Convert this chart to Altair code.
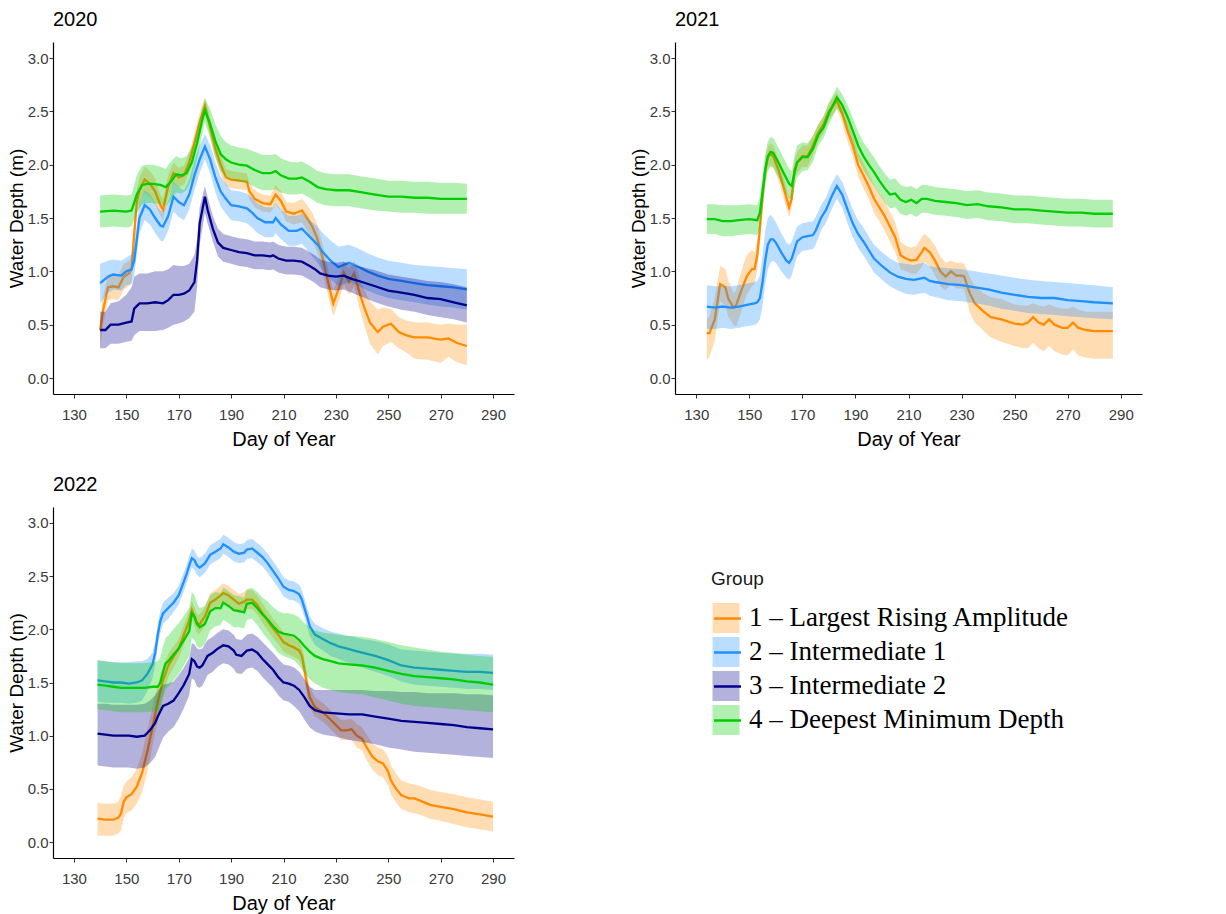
import altair as alt
import pandas as pd

GROUPS = ["1 – Largest Rising Amplitude", "2 – Intermediate 1",
          "3 – Intermediate 2", "4 – Deepest Minimum Depth"]
LINE_KEYS = ["G1", "G2", "G3", "G4"]
LINE_COLORS = ["#FF8C00", "#1E90FF", "#00008B", "#00CD00"]
X_TICKS = [130, 150, 170, 190, 210, 230, 250, 270, 290]
Y_TICKS = [0.0, 0.5, 1.0, 1.5, 2.0, 2.5, 3.0]

# ---------------- 2020 ----------------
D20_G1 = [140,141,143,145,147,149,151,152,153,154,155,157,159,161,163,164,166,168,170,172,
          174,176,178,180,182,184,186,188,190,193,196,197,199,202,205,207,209,211,214,217,
          219,221,223,225,227,229,231,233,235,237,239,241,243,246,248,251,254,257,260,265,
          270,273,276,280]
M20_G1 = [0.45,0.62,0.85,0.86,0.85,0.95,0.98,1.02,1.35,1.65,1.76,1.86,1.82,1.75,1.62,1.58,1.80,1.92,1.88,1.90,
          2.02,2.20,2.40,2.55,2.35,2.15,2.00,1.88,1.86,1.85,1.84,1.75,1.68,1.64,1.63,1.72,1.66,1.56,1.54,1.57,
          1.50,1.42,1.30,1.12,0.90,0.70,0.83,0.99,0.90,0.98,0.80,0.65,0.52,0.43,0.48,0.51,0.43,0.40,0.38,0.38,
          0.36,0.37,0.33,0.30]
HI20_G1 = [0.55,0.75,0.97,0.98,0.97,1.07,1.10,1.14,1.47,1.77,1.88,1.98,1.94,1.87,1.72,1.68,1.90,2.02,1.97,1.99,
           2.11,2.29,2.49,2.63,2.44,2.24,2.09,1.96,1.94,1.93,1.92,1.83,1.76,1.72,1.71,1.81,1.75,1.65,1.64,1.68,
           1.62,1.55,1.43,1.25,1.03,0.82,0.95,1.10,1.02,1.10,0.95,0.82,0.72,0.64,0.66,0.65,0.57,0.54,0.52,0.52,
           0.50,0.51,0.50,0.50]
LO20_G1 = [0.28,0.48,0.73,0.74,0.73,0.83,0.86,0.90,1.23,1.53,1.64,1.74,1.70,1.63,1.52,1.48,1.70,1.82,1.79,1.81,
           1.93,2.11,2.31,2.47,2.26,2.06,1.91,1.80,1.78,1.77,1.76,1.67,1.60,1.56,1.55,1.63,1.57,1.47,1.44,1.46,
           1.38,1.29,1.17,0.99,0.77,0.58,0.71,0.88,0.78,0.86,0.65,0.48,0.32,0.22,0.30,0.34,0.28,0.24,0.18,0.17,
           0.14,0.20,0.15,0.12]

D20_G2 = [140,143,145,148,150,152,153,155,157,159,161,163,164,166,168,170,172,174,176,178,
          180,182,184,186,188,190,193,196,198,200,203,206,207,209,212,215,217,219,221,223,
          225,228,231,233,235,238,242,246,250,255,260,265,270,275,280]
M20_G2 = [0.89,0.95,0.97,0.96,1.00,1.02,1.10,1.50,1.62,1.58,1.50,1.43,1.42,1.52,1.70,1.65,1.62,1.72,1.90,2.05,
          2.17,2.05,1.88,1.75,1.68,1.62,1.61,1.59,1.55,1.50,1.46,1.46,1.50,1.44,1.38,1.38,1.40,1.35,1.30,1.25,
          1.18,1.10,1.04,1.06,1.08,1.05,1.00,0.96,0.93,0.91,0.89,0.87,0.86,0.85,0.83]
HI20_G2 = [1.07,1.10,1.11,1.10,1.13,1.16,1.24,1.64,1.76,1.72,1.64,1.57,1.56,1.66,1.84,1.79,1.76,1.86,2.04,2.18,
           2.29,2.18,2.02,1.89,1.82,1.76,1.75,1.73,1.69,1.64,1.60,1.60,1.64,1.58,1.52,1.52,1.54,1.50,1.46,1.42,
           1.36,1.29,1.23,1.24,1.25,1.22,1.17,1.13,1.10,1.08,1.06,1.05,1.04,1.03,1.02]
LO20_G2 = [0.70,0.80,0.83,0.82,0.87,0.88,0.96,1.36,1.48,1.44,1.36,1.29,1.28,1.38,1.56,1.51,1.48,1.58,1.76,1.92,
           2.05,1.92,1.74,1.61,1.54,1.48,1.47,1.45,1.41,1.36,1.32,1.32,1.36,1.30,1.24,1.24,1.26,1.20,1.14,1.08,
           1.00,0.92,0.86,0.88,0.90,0.87,0.82,0.78,0.75,0.73,0.71,0.69,0.67,0.66,0.64]

D20_G3 = [140,142,144,147,150,152,153,155,158,161,164,166,168,170,172,174,176,177,178,180,
          181,183,185,187,190,193,196,199,202,205,206,208,211,214,217,220,222,224,227,230,
          233,236,240,245,250,255,260,265,270,275,280]
M20_G3 = [0.45,0.45,0.50,0.50,0.52,0.53,0.65,0.70,0.70,0.71,0.70,0.73,0.78,0.78,0.79,0.82,0.90,1.10,1.45,1.70,
          1.58,1.40,1.27,1.22,1.20,1.18,1.17,1.15,1.15,1.14,1.15,1.12,1.10,1.10,1.09,1.05,1.02,0.98,0.96,0.95,
          0.96,0.93,0.90,0.86,0.82,0.80,0.78,0.75,0.74,0.71,0.68]
HI20_G3 = [0.62,0.62,0.70,0.72,0.78,0.85,0.95,0.98,0.98,1.00,1.00,1.02,1.06,1.05,1.05,1.07,1.15,1.30,1.60,1.80,
           1.70,1.52,1.40,1.35,1.33,1.31,1.30,1.28,1.28,1.27,1.28,1.25,1.23,1.23,1.22,1.18,1.15,1.11,1.09,1.08,
           1.09,1.06,1.04,1.01,0.97,0.95,0.93,0.91,0.90,0.88,0.85]
LO20_G3 = [0.28,0.28,0.32,0.32,0.34,0.35,0.40,0.44,0.44,0.44,0.45,0.47,0.50,0.51,0.53,0.56,0.62,0.85,1.25,1.55,
           1.45,1.28,1.14,1.09,1.07,1.05,1.04,1.02,1.02,1.01,1.02,0.99,0.97,0.97,0.96,0.92,0.89,0.85,0.83,0.82,
           0.83,0.80,0.76,0.71,0.67,0.64,0.62,0.59,0.57,0.55,0.52]

D20_G4 = [140,145,150,152,154,156,158,160,163,165,167,169,171,173,175,177,179,180,182,184,
          186,188,190,193,196,199,202,205,207,209,212,215,217,220,223,226,230,235,240,245,
          250,255,260,265,270,275,280]
M20_G4 = [1.56,1.57,1.56,1.57,1.72,1.81,1.82,1.82,1.81,1.79,1.84,1.91,1.90,1.92,2.02,2.20,2.42,2.51,2.38,2.22,
          2.10,2.05,2.02,2.00,1.99,1.95,1.92,1.92,1.94,1.90,1.87,1.87,1.88,1.84,1.79,1.77,1.76,1.76,1.74,1.72,
          1.70,1.70,1.69,1.69,1.68,1.68,1.68]
HI20_G4 = [1.71,1.72,1.71,1.72,1.90,1.99,2.00,2.00,1.98,1.96,2.03,2.08,2.06,2.08,2.17,2.33,2.53,2.62,2.52,2.38,
           2.27,2.21,2.18,2.16,2.15,2.12,2.09,2.09,2.10,2.06,2.03,2.02,2.03,1.99,1.94,1.92,1.91,1.91,1.89,1.87,
           1.85,1.85,1.84,1.84,1.83,1.83,1.82]
LO20_G4 = [1.41,1.42,1.41,1.42,1.55,1.63,1.64,1.64,1.63,1.61,1.66,1.74,1.73,1.76,1.86,2.05,2.29,2.40,2.25,2.07,
           1.94,1.89,1.86,1.84,1.83,1.79,1.76,1.76,1.77,1.74,1.72,1.72,1.73,1.69,1.64,1.62,1.61,1.61,1.59,1.57,
           1.56,1.55,1.55,1.54,1.54,1.54,1.54]

# ---------------- 2021 ----------------
D21_G1 = [134,135,137,139,141,142,144,145,147,149,151,152,153,154,155,156,157,158,159,161,
          163,165,166,167,168,170,172,174,176,178,180,183,185,187,189,191,193,195,197,199,
          201,203,205,207,209,211,213,215,216,218,220,222,224,226,228,230,231,233,235,238,
          241,245,250,253,255,257,259,261,263,265,268,270,272,274,277,280,287]
M21_G1 = [0.42,0.42,0.55,0.88,0.85,0.75,0.66,0.68,0.82,0.95,1.02,1.02,1.15,1.40,1.70,1.95,2.07,2.10,2.08,1.95,
          1.78,1.60,1.68,1.95,2.02,2.08,2.08,2.18,2.30,2.38,2.50,2.60,2.48,2.32,2.18,2.00,1.90,1.80,1.68,1.60,
          1.52,1.42,1.32,1.15,1.12,1.10,1.11,1.18,1.22,1.18,1.10,1.00,0.95,1.00,0.96,0.96,0.95,0.80,0.70,0.63,
          0.57,0.55,0.51,0.50,0.52,0.57,0.52,0.50,0.55,0.50,0.47,0.47,0.52,0.47,0.45,0.44,0.44]
HI21_G1 = [0.55,0.58,0.75,1.05,1.02,0.92,0.80,0.82,1.00,1.15,1.20,1.18,1.28,1.52,1.82,2.06,2.17,2.20,2.18,2.05,
           1.88,1.69,1.77,2.04,2.12,2.18,2.18,2.27,2.38,2.46,2.58,2.68,2.57,2.42,2.28,2.11,2.02,1.92,1.81,1.73,
           1.66,1.56,1.46,1.28,1.24,1.22,1.24,1.32,1.35,1.31,1.24,1.14,1.08,1.10,1.08,1.08,1.07,0.95,0.86,0.80,
           0.76,0.74,0.69,0.68,0.68,0.70,0.68,0.67,0.69,0.67,0.65,0.65,0.67,0.64,0.62,0.62,0.62]
LO21_G1 = [0.17,0.20,0.35,0.72,0.68,0.58,0.50,0.48,0.62,0.78,0.86,0.88,1.02,1.28,1.58,1.84,1.97,2.00,1.98,1.85,
           1.68,1.51,1.59,1.86,1.92,1.98,1.98,2.09,2.22,2.30,2.42,2.52,2.39,2.22,2.08,1.89,1.78,1.68,1.55,1.47,
           1.38,1.28,1.18,1.02,1.00,0.98,0.98,1.04,1.09,1.05,0.96,0.86,0.82,0.88,0.84,0.84,0.83,0.62,0.52,0.45,
           0.38,0.34,0.30,0.28,0.28,0.33,0.28,0.25,0.30,0.25,0.22,0.21,0.27,0.21,0.19,0.18,0.18]

D21_G2 = [134,137,140,143,146,150,152,153,154,155,156,157,158,159,160,162,164,165,166,167,
          168,170,172,174,175,177,179,181,183,185,187,189,191,193,195,197,200,203,206,209,
          212,214,216,218,220,225,230,235,240,245,250,255,260,265,270,275,280,287]
M21_G2 = [0.67,0.66,0.67,0.66,0.67,0.69,0.70,0.71,0.75,0.90,1.10,1.25,1.30,1.30,1.27,1.18,1.10,1.08,1.12,1.20,
          1.28,1.32,1.33,1.34,1.38,1.50,1.58,1.70,1.80,1.72,1.58,1.45,1.35,1.28,1.20,1.12,1.05,0.99,0.95,0.93,
          0.92,0.93,0.94,0.91,0.90,0.88,0.87,0.85,0.83,0.80,0.78,0.76,0.75,0.75,0.73,0.72,0.71,0.70]
HI21_G2 = [0.87,0.86,0.86,0.86,0.87,0.89,0.90,0.91,0.96,1.15,1.38,1.50,1.53,1.50,1.46,1.36,1.27,1.25,1.28,1.35,
           1.42,1.45,1.46,1.47,1.51,1.62,1.70,1.82,1.91,1.84,1.71,1.58,1.48,1.41,1.33,1.25,1.18,1.12,1.08,1.07,
           1.06,1.07,1.08,1.05,1.04,1.03,1.02,1.00,0.98,0.96,0.94,0.92,0.91,0.90,0.89,0.88,0.87,0.85]
LO21_G2 = [0.46,0.46,0.47,0.46,0.47,0.49,0.50,0.51,0.55,0.68,0.88,1.02,1.08,1.10,1.08,1.00,0.94,0.92,0.96,1.05,
           1.14,1.19,1.20,1.21,1.25,1.38,1.46,1.58,1.68,1.60,1.45,1.32,1.22,1.15,1.07,0.99,0.92,0.86,0.82,0.79,
           0.78,0.79,0.80,0.77,0.76,0.73,0.72,0.70,0.68,0.65,0.63,0.61,0.60,0.59,0.58,0.57,0.56,0.55]

D21_G4 = [134,137,140,143,146,150,153,154,155,156,157,158,159,161,163,165,166,167,168,170,
          172,174,176,178,180,182,183,185,187,189,191,193,195,197,199,201,203,205,207,209,
          211,213,215,217,220,224,228,232,236,240,245,250,255,260,265,270,275,280,287]
M21_G4 = [1.49,1.49,1.47,1.47,1.48,1.49,1.48,1.55,1.75,1.95,2.08,2.12,2.11,2.02,1.92,1.82,1.80,1.92,2.02,2.07,
          2.07,2.15,2.28,2.35,2.48,2.58,2.63,2.56,2.45,2.32,2.18,2.08,2.00,1.93,1.85,1.78,1.72,1.73,1.67,1.65,
          1.67,1.64,1.68,1.68,1.66,1.65,1.64,1.62,1.63,1.61,1.60,1.58,1.58,1.57,1.56,1.55,1.55,1.54,1.54]
HI21_G4 = [1.63,1.63,1.62,1.62,1.62,1.63,1.62,1.70,1.90,2.10,2.22,2.26,2.25,2.16,2.06,1.96,1.94,2.08,2.18,2.21,
           2.20,2.27,2.38,2.45,2.58,2.68,2.73,2.66,2.56,2.44,2.31,2.21,2.14,2.07,1.99,1.92,1.86,1.87,1.81,1.79,
           1.80,1.77,1.81,1.81,1.79,1.78,1.77,1.75,1.76,1.74,1.73,1.71,1.71,1.70,1.69,1.68,1.68,1.67,1.67]
LO21_G4 = [1.35,1.35,1.33,1.33,1.34,1.35,1.34,1.40,1.60,1.80,1.94,1.98,1.97,1.88,1.78,1.68,1.67,1.78,1.88,1.94,
           1.95,2.03,2.18,2.25,2.38,2.48,2.53,2.46,2.34,2.20,2.05,1.95,1.87,1.80,1.72,1.65,1.59,1.60,1.54,1.52,
           1.54,1.51,1.55,1.55,1.53,1.52,1.51,1.49,1.50,1.48,1.47,1.45,1.45,1.44,1.43,1.42,1.42,1.41,1.41]

# ---------------- 2022 ----------------
D22_G1 = [139,142,145,147,148,149,150,152,154,156,158,160,162,164,166,168,170,172,174,175,
          176,177,178,180,182,184,186,187,189,191,193,195,196,198,200,202,204,206,208,210,
          212,214,216,217,218,219,220,222,225,228,230,232,234,236,238,240,242,244,246,248,
          249,250,251,253,255,258,260,263,266,270,275,280,285,290]
M22_G1 = [0.22,0.21,0.21,0.23,0.27,0.38,0.42,0.45,0.52,0.65,0.85,1.08,1.32,1.52,1.66,1.74,1.82,1.95,2.08,2.18,
          2.12,2.05,2.05,2.12,2.25,2.28,2.32,2.34,2.32,2.28,2.24,2.26,2.28,2.28,2.23,2.15,2.08,2.01,1.95,1.88,
          1.85,1.83,1.80,1.75,1.62,1.48,1.36,1.27,1.22,1.15,1.10,1.05,1.05,1.06,1.00,0.97,0.88,0.80,0.76,0.74,
          0.70,0.66,0.58,0.50,0.44,0.41,0.41,0.38,0.35,0.33,0.31,0.28,0.26,0.24]
HI22_G1 = [0.37,0.36,0.36,0.38,0.44,0.53,0.57,0.61,0.69,0.83,1.05,1.27,1.48,1.65,1.77,1.84,1.91,2.04,2.17,2.27,
           2.21,2.14,2.14,2.21,2.34,2.37,2.41,2.43,2.41,2.37,2.33,2.35,2.37,2.37,2.32,2.24,2.17,2.10,2.04,1.97,
           1.94,1.92,1.89,1.84,1.72,1.58,1.46,1.36,1.31,1.24,1.19,1.15,1.15,1.16,1.11,1.08,1.00,0.93,0.89,0.87,
           0.84,0.80,0.72,0.64,0.58,0.55,0.54,0.52,0.49,0.47,0.45,0.42,0.40,0.38]
LO22_G1 = [0.06,0.06,0.06,0.08,0.11,0.22,0.27,0.30,0.36,0.47,0.66,0.90,1.15,1.38,1.55,1.64,1.73,1.86,1.99,2.09,
           2.03,1.96,1.96,2.03,2.16,2.19,2.23,2.25,2.23,2.19,2.15,2.17,2.19,2.19,2.14,2.06,1.99,1.92,1.86,1.79,
           1.76,1.74,1.71,1.66,1.52,1.38,1.26,1.18,1.13,1.06,1.01,0.96,0.96,0.96,0.89,0.86,0.76,0.68,0.63,0.61,
           0.57,0.53,0.45,0.37,0.31,0.28,0.27,0.25,0.22,0.20,0.17,0.14,0.12,0.10]

D22_G2 = [139,142,145,148,151,154,156,158,160,161,162,163,164,166,168,170,172,173,174,175,
          176,177,178,180,182,184,186,187,189,191,193,195,196,198,200,202,204,206,208,210,
          212,214,216,217,218,219,220,222,225,228,231,234,237,240,245,250,255,260,265,270,
          275,280,285,290]
M22_G2 = [1.52,1.51,1.50,1.50,1.49,1.50,1.52,1.58,1.67,1.78,1.95,2.08,2.15,2.20,2.25,2.32,2.45,2.52,2.60,2.67,
          2.65,2.60,2.58,2.62,2.70,2.73,2.76,2.80,2.77,2.73,2.71,2.72,2.75,2.76,2.72,2.68,2.62,2.55,2.48,2.40,
          2.37,2.36,2.33,2.28,2.20,2.12,2.03,1.95,1.91,1.87,1.84,1.82,1.80,1.78,1.75,1.71,1.66,1.64,1.63,1.62,
          1.61,1.60,1.60,1.59]
HI22_G2 = [1.71,1.70,1.69,1.69,1.69,1.70,1.70,1.72,1.78,1.88,2.05,2.18,2.25,2.30,2.34,2.41,2.54,2.61,2.69,2.76,
           2.74,2.69,2.67,2.71,2.79,2.82,2.85,2.89,2.86,2.82,2.80,2.81,2.84,2.85,2.81,2.77,2.71,2.64,2.57,2.49,
           2.46,2.45,2.42,2.37,2.29,2.21,2.12,2.05,2.01,1.98,1.96,1.94,1.93,1.91,1.89,1.86,1.81,1.80,1.79,1.78,
           1.77,1.77,1.77,1.76]
LO22_G2 = [1.32,1.31,1.31,1.31,1.30,1.31,1.33,1.42,1.54,1.66,1.84,1.97,2.05,2.10,2.16,2.23,2.36,2.43,2.51,2.58,
           2.56,2.51,2.49,2.53,2.61,2.64,2.67,2.71,2.68,2.64,2.62,2.63,2.66,2.67,2.63,2.59,2.53,2.46,2.39,2.31,
           2.28,2.27,2.24,2.19,2.11,2.03,1.94,1.85,1.80,1.75,1.72,1.69,1.67,1.64,1.60,1.56,1.51,1.48,1.47,1.46,
           1.45,1.44,1.44,1.43]

D22_G3 = [139,142,145,148,151,154,157,159,161,162,164,166,168,170,172,174,175,176,177,178,
          179,181,183,185,187,189,191,192,194,196,198,200,202,204,206,208,210,212,214,216,
          218,220,222,225,230,235,240,245,250,255,260,265,270,275,280,285,290]
M22_G3 = [1.02,1.01,1.00,1.00,1.00,0.99,1.00,1.05,1.12,1.18,1.28,1.30,1.33,1.40,1.48,1.58,1.72,1.70,1.65,1.64,
          1.66,1.75,1.78,1.82,1.85,1.84,1.80,1.76,1.75,1.80,1.81,1.78,1.72,1.67,1.62,1.55,1.50,1.49,1.47,1.43,
          1.36,1.28,1.24,1.22,1.21,1.20,1.20,1.18,1.16,1.14,1.13,1.12,1.11,1.10,1.08,1.07,1.06]
HI22_G3 = [1.30,1.30,1.29,1.29,1.29,1.29,1.30,1.33,1.38,1.42,1.48,1.49,1.51,1.57,1.64,1.73,1.87,1.86,1.82,1.81,
           1.82,1.90,1.93,1.97,2.00,1.99,1.95,1.91,1.90,1.95,1.96,1.93,1.88,1.83,1.78,1.72,1.67,1.66,1.64,1.60,
           1.53,1.46,1.43,1.43,1.43,1.43,1.43,1.42,1.42,1.41,1.41,1.40,1.40,1.40,1.39,1.39,1.38]
LO22_G3 = [0.72,0.71,0.70,0.70,0.70,0.69,0.70,0.74,0.80,0.86,0.98,1.04,1.08,1.16,1.26,1.38,1.54,1.52,1.46,1.45,
           1.47,1.57,1.60,1.65,1.68,1.67,1.63,1.59,1.58,1.63,1.64,1.61,1.55,1.50,1.45,1.38,1.33,1.32,1.28,1.23,
           1.15,1.08,1.04,1.01,0.99,0.96,0.94,0.92,0.89,0.87,0.85,0.84,0.83,0.82,0.81,0.80,0.79]

D22_G4 = [139,142,145,148,151,154,157,160,162,163,164,165,166,168,170,172,174,175,176,177,
          178,180,182,184,186,187,189,191,193,195,196,198,200,202,204,206,208,210,212,214,
          216,218,220,222,225,228,231,235,240,245,250,255,260,265,270,275,280,285,290]
M22_G4 = [1.48,1.47,1.46,1.45,1.45,1.45,1.45,1.46,1.46,1.50,1.60,1.68,1.70,1.76,1.82,1.90,1.98,2.15,2.12,2.05,
          2.02,2.05,2.17,2.20,2.20,2.25,2.22,2.18,2.17,2.16,2.24,2.25,2.20,2.14,2.09,2.03,1.98,1.96,1.95,1.94,
          1.90,1.84,1.79,1.75,1.72,1.70,1.68,1.67,1.66,1.64,1.61,1.58,1.56,1.55,1.54,1.53,1.51,1.50,1.48]
HI22_G4 = [1.71,1.70,1.69,1.68,1.68,1.68,1.68,1.69,1.70,1.74,1.84,1.92,1.94,2.00,2.06,2.13,2.20,2.35,2.32,2.25,
           2.20,2.22,2.32,2.35,2.34,2.39,2.36,2.32,2.31,2.30,2.38,2.39,2.35,2.30,2.26,2.21,2.17,2.15,2.15,2.14,
           2.11,2.06,2.02,1.99,1.97,1.96,1.95,1.94,1.93,1.91,1.88,1.85,1.83,1.81,1.79,1.78,1.76,1.75,1.74]
LO22_G4 = [1.25,1.24,1.23,1.22,1.22,1.22,1.22,1.23,1.22,1.26,1.36,1.44,1.46,1.52,1.58,1.66,1.75,1.92,1.90,1.84,
           1.82,1.86,1.99,2.03,2.04,2.09,2.06,2.02,2.02,2.01,2.09,2.10,2.04,1.97,1.91,1.84,1.78,1.75,1.73,1.71,
           1.66,1.59,1.53,1.49,1.45,1.43,1.41,1.40,1.39,1.36,1.33,1.30,1.28,1.27,1.26,1.25,1.24,1.23,1.22]

SERIES = [
    ("2020", 0, D20_G1, M20_G1, LO20_G1, HI20_G1),
    ("2020", 1, D20_G2, M20_G2, LO20_G2, HI20_G2),
    ("2020", 2, D20_G3, M20_G3, LO20_G3, HI20_G3),
    ("2020", 3, D20_G4, M20_G4, LO20_G4, HI20_G4),
    ("2021", 0, D21_G1, M21_G1, LO21_G1, HI21_G1),
    ("2021", 1, D21_G2, M21_G2, LO21_G2, HI21_G2),
    ("2021", 3, D21_G4, M21_G4, LO21_G4, HI21_G4),
    ("2022", 0, D22_G1, M22_G1, LO22_G1, HI22_G1),
    ("2022", 1, D22_G2, M22_G2, LO22_G2, HI22_G2),
    ("2022", 2, D22_G3, M22_G3, LO22_G3, HI22_G3),
    ("2022", 3, D22_G4, M22_G4, LO22_G4, HI22_G4),
]

rows = []
for year, gi, d, m, lo, hi in SERIES:
    for a, b, c, e in zip(d, m, lo, hi):
        rows.append({"year": year, "group": GROUPS[gi], "groupL": LINE_KEYS[gi],
                     "day": a, "mid": b, "lo": c, "hi": e})
df = pd.DataFrame(rows)

SANS = "Liberation Sans Narrow, Arial Narrow, Liberation Sans, Arial, sans-serif"

# legend coordinates are relative to the first panel's plot origin
LEG_X, LEG_Y = 658, 528
TITLE_FS, TITLE_PAD = 19, 14
common_leg = dict(orient="none", legendX=LEG_X, symbolSize=900, labelFont="Liberation Serif",
                  labelFontSize=27, labelColor="black", labelOffset=8, labelLimit=600,
                  labelBaseline="middle", rowPadding=4)
fill_legend = alt.Legend(
    title="Group", legendY=LEG_Y,
    symbolType="M-0.9,-1H0.9V1H-0.9Z", symbolOpacity=0.3, symbolStrokeWidth=0,
    titleFont="Liberation Sans", titleFontSize=TITLE_FS, titleFontWeight="normal",
    titleColor="#1a1a1a", titlePadding=TITLE_PAD, **common_leg)
stroke_legend = alt.Legend(
    title=None, legendY=LEG_Y + TITLE_FS + TITLE_PAD - 1,
    symbolType="M-0.9,0H0.9", symbolStrokeWidth=2.5,
    symbolFillColor="transparent", labelExpr="''", **common_leg)

fill_scale = alt.Scale(domain=GROUPS, range=LINE_COLORS)
stroke_scale = alt.Scale(domain=LINE_KEYS, range=LINE_COLORS)
xs = alt.Scale(domain=[122, 298], nice=False, zero=False)
ys = alt.Scale(domain=[-0.15, 3.15], nice=False, zero=False)
xax = alt.Axis(values=X_TICKS, title="Day of Year", format="d",
               labelPadding=9, titlePadding=7, titleFontSize=20)
yax = alt.Axis(values=Y_TICKS, title="Water Depth (m)", format=".1f",
               labelPadding=1, titlePadding=1)


def panel(year, w, h):
    layers = []
    for gi, g in enumerate(GROUPS):
        sub = df[(df.year == year) & (df.group == g)]
        if sub.empty:
            continue
        area = alt.Chart(sub).mark_area(opacity=0.3).encode(
            x=alt.X("day:Q", scale=xs, axis=xax),
            y=alt.Y("lo:Q", scale=ys, axis=yax),
            y2="hi:Q",
            fill=alt.Fill("group:N", scale=fill_scale, legend=fill_legend),
        )
        line = alt.Chart(sub).mark_line(strokeWidth=2.3).encode(
            x=alt.X("day:Q", scale=xs, axis=xax),
            y=alt.Y("mid:Q", scale=ys, axis=yax),
            stroke=alt.Stroke("groupL:N", scale=stroke_scale, legend=stroke_legend),
        )
        layers += [area, line]
    return alt.layer(*layers).properties(
        width=w, height=h,
        title=alt.TitleParams(year, anchor="start", frame="group", fontSize=20,
                              font=SANS, fontWeight="normal", color="black",
                              offset=12))


p20 = panel("2020", 461, 352)
p21 = panel("2021", 467, 352)
p22 = panel("2022", 461, 351)

top = alt.hconcat(p20, p21, spacing=115).resolve_scale(fill="shared", stroke="shared")
chart = alt.vconcat(top, p22, spacing=26).resolve_scale(
    fill="shared", stroke="shared"
).properties(
    padding={"left": 7, "top": 10, "right": 5, "bottom": 5},
    background="white",
).configure_view(strokeWidth=0).configure_axis(
    grid=False, domainColor="black", domainWidth=1.2, tickColor="#333333",
    tickSize=4, labelColor="#3a3a3a", titleColor="black",
    labelFont=SANS, titleFont=SANS, labelFontSize=15, titleFontSize=19,
    titleFontWeight="normal",
)

chart.save("out.html", embed_options={"renderer": "svg", "actions": False})
